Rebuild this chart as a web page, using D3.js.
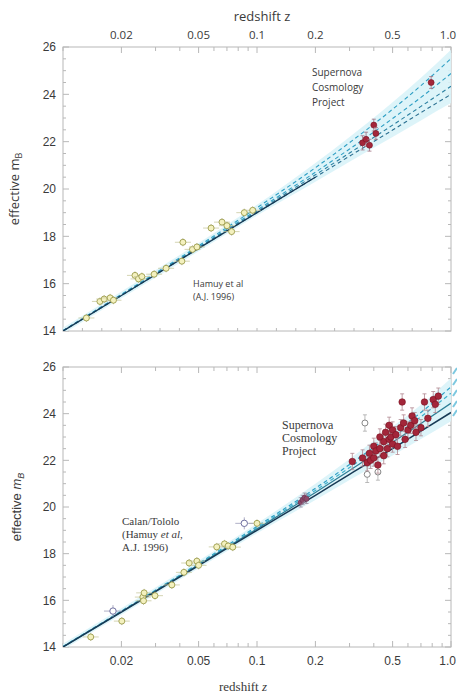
<!DOCTYPE html>
<html><head><meta charset="utf-8">
<script src="https://cdn.jsdelivr.net/npm/d3@7"></script>
<style>
html,body{margin:0;padding:0;background:#fff;}
svg{display:block;}
</style></head>
<body>
<svg id="chart" width="457" height="695"></svg>
<script>
// ---------- data ----------
const zTickLabels = ["0.02","0.05","0.1","0.2","0.5","1.0"];
const zTickValues = [0.02,0.05,0.1,0.2,0.5,1.0];
const magTicks = [14,16,18,20,22,24,26];

const zGrid = [0.01,0.02,0.05,0.1,0.2,0.3,0.5,0.7,1.0];
const topCurveA = [14.02,15.55,17.60,19.21,20.90,21.96,23.37,24.37,25.51];
const topCurveB = [14.01,15.53,17.55,19.11,20.71,21.69,22.98,23.87,24.88];
const topCurveC = [14.01,15.51,17.52,19.05,20.60,21.52,22.70,23.49,24.34];
const topCurveD = [14.00,15.50,17.49,19.00,20.50,21.39,22.49,23.23,24.00];

const botCurveA = [14.02,15.54,17.58,19.17,20.80,21.82,23.15,24.05,25.15];
const botCurveB = [14.01,15.53,17.55,19.11,20.71,21.69,22.98,23.87,24.88];
const botCurveC = [14.01,15.51,17.52,19.06,20.62,21.56,22.78,23.58,24.45];
const botCurveD = [14.00,15.50,17.49,19.00,20.50,21.40,22.50,23.25,24.05];

// top panel: Calan/Tololo (Hamuy et al 1996)
const topLowZ = [0.0132,0.0155,0.0163,0.0175,0.0182,0.0235,0.0245,0.0255,0.0295,0.034,0.0415,0.041,0.0465,0.049,0.058,0.066,0.070,0.074,0.086,0.095];
const topLowM = [14.55,15.25,15.35,15.40,15.30,16.35,16.20,16.30,16.40,16.65,17.75,16.95,17.45,17.55,18.35,18.60,18.45,18.20,19.00,19.10];
// top panel: Supernova Cosmology Project
const topHighZ = [0.35,0.365,0.38,0.40,0.41,0.79];
const topHighM = [21.95,22.10,21.85,22.70,22.35,24.50];
const topHighErr = [0.30,0.30,0.25,0.25,0.25,0.25];

// bottom panel: Calan/Tololo
const botLowZ = [0.0139,0.0201,0.0258,0.0262,0.0260,0.0298,0.0364,0.042,0.0447,0.049,0.050,0.062,0.068,0.071,0.075,0.100];
const botLowM = [14.43,15.11,16.14,16.32,15.98,16.20,16.66,17.20,17.60,17.68,17.50,18.29,18.42,18.33,18.28,19.30];
const botOpenZ = [0.0181,0.086];
const botOpenM = [15.54,19.30];
// bottom panel: intermediate-z
const botMidZ = [0.168,0.172,0.176,0.180];
const botMidM = [20.20,20.30,20.40,20.35];
// bottom panel: Supernova Cosmology Project (filled)
const botHighZ = [0.31,0.35,0.37,0.38,0.385,0.40,0.40,0.41,0.42,0.43,0.43,0.45,0.45,0.46,0.47,0.48,0.48,0.49,0.50,0.50,0.52,0.53,0.55,0.56,0.57,0.58,0.60,0.62,0.63,0.65,0.66,0.70,0.73,0.76,0.81,0.83,0.86];
const botHighM = [21.95,22.10,21.90,22.30,22.00,22.60,22.10,22.40,21.80,22.50,23.00,22.20,22.80,23.20,22.50,23.50,22.90,23.00,23.30,22.70,23.10,22.60,23.40,24.50,23.60,22.90,23.30,23.50,23.90,23.70,23.20,23.40,24.50,23.80,24.60,24.40,24.75];
// bottom panel: excluded (open)
const botExclZ = [0.36,0.37,0.42];
const botExclM = [23.60,21.40,21.50];

// ---------- layout ----------
const svg = d3.select("#chart");
const X0 = 63, X1 = 451;
const x = d3.scaleLog().domain([0.01,1.0]).range([X0,X1]);
const yTop = d3.scaleLinear().domain([14,26]).range([331,47]);
const yBot = d3.scaleLinear().domain([14,26]).range([647,367]);

const axisCol = "#b8b8b8", textCol = "#3a3a3a";
const dashCol = "#2f9fc4", solidDark = "#173a55", bandCol = "#d9f3f8";

const minorZ = [];
[0.01,0.1].forEach(d=>{ for(let k=1;k<=9;k++){ const v=d*k; if(v>=0.0099 && v<=1.0001) minorZ.push(v);} });
minorZ.push(1.0);

function frame(y, bottomLog){
  const g = svg.append("g");
  const yr = y.range();
  g.append("rect").attr("x",X0).attr("y",yr[1]).attr("width",X1-X0).attr("height",yr[0]-yr[1])
    .attr("fill","none").attr("stroke",axisCol).attr("stroke-width",1);
  d3.range(14,26.01,0.5).forEach(v=>{
    const major = Math.abs(v%2)<1e-6;
    const L = major?6:3;
    g.append("line").attr("x1",X0).attr("x2",X0+L).attr("y1",y(v)).attr("y2",y(v)).attr("stroke",axisCol);
    g.append("line").attr("x1",X1).attr("x2",X1-L).attr("y1",y(v)).attr("y2",y(v)).attr("stroke",axisCol);
  });
  minorZ.forEach(v=>{
    const major = zTickValues.some(t=>Math.abs(t-v)<1e-9);
    g.append("line").attr("x1",x(v)).attr("x2",x(v)).attr("y1",yr[1]).attr("y2",yr[1]+(major?6:4)).attr("stroke",axisCol);
  });
  if(bottomLog){
    minorZ.forEach(v=>{
      const major = zTickValues.some(t=>Math.abs(t-v)<1e-9);
      g.append("line").attr("x1",x(v)).attr("x2",x(v)).attr("y1",yr[0]).attr("y2",yr[0]-(major?6:4)).attr("stroke",axisCol);
    });
  } else {
    d3.range(1,20).forEach(k=>{
      const v = Math.pow(10,-2+k*0.1);
      g.append("line").attr("x1",x(v)).attr("x2",x(v)).attr("y1",yr[0]).attr("y2",yr[0]-3).attr("stroke",axisCol);
    });
  }
  magTicks.forEach(v=>{
    g.append("text").attr("x",56).attr("y",y(v)).attr("dy","0.35em").attr("text-anchor","end")
      .attr("font-family","Liberation Sans, Arial, sans-serif").attr("font-size",12).attr("fill",textCol).text(v);
  });
}

function curvesAndBand(y, curves, styles, clipId){
  const yr = y.range();
  svg.append("clipPath").attr("id",clipId).append("rect").attr("x",X0).attr("y",yr[1]).attr("width",X1-X0).attr("height",yr[0]-yr[1]);
  const g = svg.append("g").attr("clip-path",`url(#${clipId})`);
  const hi = curves[0], lo = curves[curves.length-1];
  const area = d3.area().x((d,i)=>x(zGrid[i])).y0((d,i)=>y(lo[i]-0.12-0.25*Math.max(0,Math.log10(zGrid[i]/0.1))))
    .y1((d,i)=>y(hi[i]+0.12+0.25*Math.max(0,Math.log10(zGrid[i]/0.1)))).curve(d3.curveMonotoneX);
  g.append("path").datum(zGrid).attr("d",area).attr("fill",bandCol).attr("opacity",0.9);
  curves.forEach((c,ci)=>{
    const line = d3.line().x((d,i)=>x(zGrid[i])).y(d=>y(d)).curve(d3.curveMonotoneX);
    const st = styles[ci];
    g.append("path").datum(c).attr("d",line).attr("fill","none").attr("stroke",st.color)
      .attr("stroke-width",st.w).attr("stroke-dasharray",st.dash||null);
  });
  return g;
}

function errV(g, px, py0, py1, col){
  g.append("line").attr("x1",px).attr("x2",px).attr("y1",py0).attr("y2",py1).attr("stroke",col).attr("stroke-width",0.8);
  g.append("line").attr("x1",px-2).attr("x2",px+2).attr("y1",py0).attr("y2",py0).attr("stroke",col).attr("stroke-width",0.8);
  g.append("line").attr("x1",px-2).attr("x2",px+2).attr("y1",py1).attr("y2",py1).attr("stroke",col).attr("stroke-width",0.8);
}

function lowPoints(y, zs, ms, g){
  zs.forEach((z,i)=>{
    const px=x(z), py=y(ms[i]);
    g.append("line").attr("x1",px-8).attr("x2",px+8).attr("y1",py).attr("y2",py).attr("stroke","#c9c9a0").attr("stroke-width",0.8);
    g.append("line").attr("x1",px).attr("x2",px).attr("y1",py-4).attr("y2",py+4).attr("stroke","#b0b090").attr("stroke-width",0.8);
    g.append("circle").attr("cx",px).attr("cy",py).attr("r",3).attr("fill","#f4f1bf").attr("stroke","#9c9c4c").attr("stroke-width",0.9);
  });
}

// ---------- TOP PANEL ----------
frame(yTop,false);
const topStyles = [
  {color:dashCol,w:1.1,dash:"4,3"},{color:dashCol,w:1.1,dash:"4,3"},
  {color:"#2a7fa0",w:1.1,dash:"4,3"},{color:"#2a6f90",w:1.1,dash:"4,3"}];
const gT = curvesAndBand(yTop,[topCurveA,topCurveB,topCurveC,topCurveD],topStyles,"clipT");
gT.append("path").datum(topCurveD.slice(0,5)).attr("d",d3.line().x((d,i)=>x(zGrid[i])).y(d=>yTop(d)).curve(d3.curveMonotoneX))
  .attr("fill","none").attr("stroke",solidDark).attr("stroke-width",1.4);
lowPoints(yTop, topLowZ, topLowM, gT);
topHighZ.forEach((z,i)=>{
  const px=x(z), py=yTop(topHighM[i]);
  errV(gT,px,yTop(topHighM[i]+topHighErr[i]),yTop(topHighM[i]-topHighErr[i]),"#a07080");
  gT.append("circle").attr("cx",px).attr("cy",py).attr("r",3).attr("fill","#a3263a").attr("stroke","#7a1020").attr("stroke-width",0.6);
});

svg.append("text").attr("x",262).attr("y",21).attr("text-anchor","middle")
  .attr("font-family","Open Sans, Liberation Sans, sans-serif").attr("font-size",13).attr("fill",textCol)
  .text("redshift  z");
zTickValues.forEach((v,i)=>{
  const last = i===zTickValues.length-1;
  svg.append("text").attr("x",last?456:x(v)).attr("y",39).attr("text-anchor",last?"end":"middle")
    .attr("font-family","Open Sans, Liberation Sans, sans-serif").attr("font-size",11.5).attr("fill",textCol).text(zTickLabels[i]);
});
{
  const t = svg.append("text").attr("transform","translate(19,189) rotate(-90)").attr("text-anchor","middle")
    .attr("font-family","Open Sans, Liberation Sans, sans-serif").attr("font-size",13).attr("fill",textCol);
  t.append("tspan").text("effective  m");
  t.append("tspan").attr("font-size",9).attr("dy",3).text("B");
}
[["Supernova",72],["Cosmology",87],["Project",102]].forEach(d=>{
  svg.append("text").attr("x",312).attr("y",d[1]).attr("dy","0.35em").attr("font-family","Open Sans, Liberation Sans, sans-serif")
    .attr("font-size",10).attr("fill",textCol).text(d[0]);
});
[["Hamuy et al",284],["(A.J. 1996)",297]].forEach(d=>{
  svg.append("text").attr("x",193).attr("y",d[1]).attr("dy","0.35em").attr("font-family","Open Sans, Liberation Sans, sans-serif")
    .attr("font-size",9).attr("fill",textCol).text(d[0]);
});

// ---------- BOTTOM PANEL ----------
frame(yBot,true);
const botStyles = [
  {color:dashCol,w:1.2,dash:"4,3"},{color:"#3fb0cc",w:1.2,dash:"4,3"},
  {color:"#2d7d95",w:1.2},{color:solidDark,w:1.5}];
const gB = curvesAndBand(yBot,[botCurveA,botCurveB,botCurveC,botCurveD],botStyles,"clipB");
lowPoints(yBot, botLowZ, botLowM, gB);
botOpenZ.forEach((z,i)=>{
  const px=x(z), py=yBot(botOpenM[i]);
  gB.append("line").attr("x1",px-9).attr("x2",px+9).attr("y1",py).attr("y2",py).attr("stroke","#9a9ab8").attr("stroke-width",0.8);
  gB.append("line").attr("x1",px).attr("x2",px).attr("y1",py-6).attr("y2",py+6).attr("stroke","#9a9ab8").attr("stroke-width",0.8);
  gB.append("circle").attr("cx",px).attr("cy",py).attr("r",3.2).attr("fill","#fff").attr("stroke","#7070a0").attr("stroke-width",1);
});
botMidZ.forEach((z,i)=>{
  const px=x(z), py=yBot(botMidM[i]);
  errV(gB,px,yBot(botMidM[i]+0.2),yBot(botMidM[i]-0.2),"#9a8aa0");
  gB.append("circle").attr("cx",px).attr("cy",py).attr("r",2.6).attr("fill","#8a4a6a").attr("stroke","#6a3050").attr("stroke-width",0.6);
});
botExclZ.forEach((z,i)=>{
  const px=x(z), py=yBot(botExclM[i]);
  errV(gB,px,yBot(botExclM[i]+0.35),yBot(botExclM[i]-0.35),"#aaa");
  gB.append("circle").attr("cx",px).attr("cy",py).attr("r",3).attr("fill","#fff").attr("stroke","#888").attr("stroke-width",1);
});
botHighZ.forEach((z,i)=>{
  errV(gB,x(z),yBot(botHighM[i]+0.35),yBot(botHighM[i]-0.35),"#b08890");
});
botHighZ.forEach((z,i)=>{
  gB.append("circle").attr("cx",x(z)).attr("cy",yBot(botHighM[i])).attr("r",3.3).attr("fill","#a3263a").attr("stroke","#7a1020").attr("stroke-width",0.6);
});

zTickValues.forEach((v,i)=>{
  const last = i===zTickValues.length-1;
  svg.append("text").attr("x",last?456:x(v)).attr("y",661).attr("dy","0.35em").attr("text-anchor",last?"end":"middle")
    .attr("font-family","Liberation Sans, Arial, sans-serif").attr("font-size",12).attr("fill",textCol).text(zTickLabels[i]);
});
{
  const t = svg.append("text").attr("x",243).attr("y",691).attr("text-anchor","middle")
    .attr("font-family","Liberation Serif, Times New Roman, serif").attr("font-size",13).attr("fill",textCol);
  t.append("tspan").text("redshift  ");
  t.append("tspan").attr("font-style","italic").text("z");
}
{
  const t = svg.append("text").attr("transform","translate(21,507) rotate(-90)").attr("text-anchor","middle")
    .attr("font-family","Liberation Sans, Arial, sans-serif").attr("font-size",13).attr("fill",textCol);
  t.append("tspan").text("effective  ");
  t.append("tspan").attr("font-style","italic").text("m");
  t.append("tspan").attr("font-style","italic").attr("font-size",9).attr("dy",3).text("B");
}
[["Supernova",425],["Cosmology",438],["Project",451]].forEach(d=>{
  svg.append("text").attr("x",282).attr("y",d[1]).attr("dy","0.35em").attr("font-family","Liberation Serif, Times New Roman, serif")
    .attr("font-size",12).attr("fill",textCol).text(d[0]);
});
[["Calan/Tololo",521],["(Hamuy ",534,"et al",","],["A.J. 1996)",547]].forEach(d=>{
  const t = svg.append("text").attr("x",122).attr("y",d[1]).attr("dy","0.35em").attr("font-family","Liberation Serif, Times New Roman, serif")
    .attr("font-size",11).attr("fill",textCol);
  t.append("tspan").text(d[0]);
  if(d[2]){ t.append("tspan").attr("font-style","italic").text(d[2]); t.append("tspan").text(d[3]); }
});
[371,382,393,404,413].forEach(py=>{
  svg.append("line").attr("x1",453).attr("x2",457).attr("y1",py+3).attr("y2",py-3).attr("stroke","#7cc8e0").attr("stroke-width",2);
});
</script>
</body></html>
